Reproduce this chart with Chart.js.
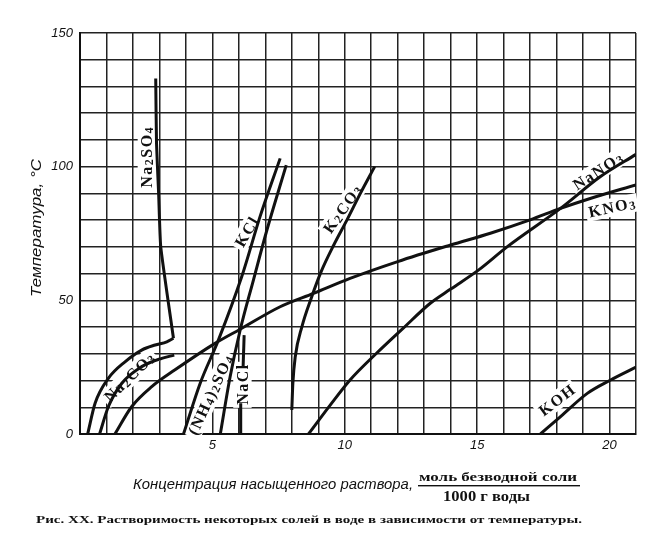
<!DOCTYPE html>
<html>
<head>
<meta charset="utf-8">
<script src="https://cdn.jsdelivr.net/npm/chart.js@4.4.1/dist/chart.umd.min.js"></script>
<style>
  html, body { margin: 0; padding: 0; background: #fff; }
  #wrap { width: 669px; height: 542px; }
</style>
</head>
<body>
<div id="wrap"><canvas id="chart" width="669" height="542"></canvas></div>
<script>
"use strict";

// tick labels
const X_TICKS = [5, 10, 15, 20];
const Y_TICKS = [0, 50, 100, 150];

// solubility curves: [concentration, temperature]
const NA2CO3_UPPER = [[0.29, 0], [0.57, 11.5], [1.07, 20.8], [1.70, 27], [2.33, 31.4], [2.84, 33.3], [3.28, 34.5], [3.53, 35.8]];
const NA2SO4 = [[3.53, 35.8], [3.05, 70], [2.97, 90], [2.89, 108.7], [2.86, 133]];
const NA2CO3_LOWER = [[0.74, 0], [1.07, 10.2], [1.58, 19], [2.33, 25.2], [3.09, 28.3], [3.56, 29.5]];
const KNO3 = [[1.32, 0], [1.95, 10.2], [2.71, 17.7], [3.59, 24], [5.1, 33.9], [6.05, 39.2], [7.56, 47.6], [8.82, 52.6],
  [10.2, 58.2], [12.0, 64.5], [14.0, 70.7], [15.5, 75.1], [17.0, 80.1], [18.15, 84.4], [19.3, 88.2], [21.0, 93.2]];
const NANO3 = [[8.63, 0], [9.45, 10.8], [10.2, 20.2], [11.2, 30.2], [12.2, 39.5], [13.23, 48.9], [14.0, 54.2],
  [15.06, 61.4], [16.13, 70], [18.15, 84.4], [19.66, 96.3], [21.0, 104.6]];
const KOH = [[17.39, 0], [18.15, 6.5], [19.16, 15.2], [20.04, 20.2], [21.0, 25]];
const K2CO3 = [[8.0, 9], [8.04, 19], [8.13, 28.9], [8.38, 40.1], [8.74, 51.0], [9.12, 61.0], [9.58, 70.6], [10.08, 80], [10.59, 90], [11.13, 100]];
const KCL = [[3.91, 0], [4.54, 19], [5.23, 35.2], [6.11, 58.9], [6.8, 81.3], [7.56, 103.1]];
const NH4_2SO4 = [[5.3, 0], [5.67, 21.4], [6.05, 38.9], [6.55, 57.6], [7.06, 76.3], [7.79, 100.6]];
const NACL_LOW = [[6.05, 0], [6.07, 11.5]];
const NACL_HIGH = [[6.16, 25], [6.2, 37]];

// curve names ("_" marks the next char as subscript) and where they sit
const LABEL_TEXTS = ["Na_2SO_4", "Na_2CO_3", "(NH_4)_2SO_4", "NaCl", "KCl", "K_2CO_3", "NaNO_3", "KNO_3", "KOH"];
const LABEL_AT = [[2.51, 103.4], [1.85, 21.3], [4.91, 14.6], [6.12, 18.4], [6.28, 75.6], [9.9, 84.2], [19.55, 98.4], [20.08, 84.9], [18.0, 12.7]];
const LABEL_ANGLE = [-90, -44, -65, -90, -60, -55, -33, -12, -37];

const Y_TITLE = "Температура, °С";
const X_TITLE = "Концентрация насыщенного раствора,";
const UNIT_TOP = "моль безводной соли";
const UNIT_BOTTOM = "1000 г воды";
const CAPTION = "Рис. XX. Растворимость некоторых солей в воде в зависимости от температуры.";

const INK = "#111";

function toPoints(arr) {
  return arr.map((p) => ({ x: p[0], y: p[1] }));
}

function fitText(ctx, text, x, y, width) {
  const w = ctx.measureText(text).width;
  ctx.save();
  ctx.translate(x, y);
  ctx.scale(width / w, 1);
  ctx.textAlign = "left";
  ctx.fillText(text, 0, 0);
  ctx.restore();
}

function richParts(text) {
  const parts = [];
  for (let i = 0; i < text.length; i++) {
    if (text[i] === "_") {
      parts.push({ s: text[i + 1], sub: true });
      i++;
    } else {
      parts.push({ s: text[i], sub: false });
    }
  }
  return parts;
}

function drawRich(ctx, text, cx, cy, angle) {
  const size = 16;
  const spacing = 1.5;
  const font = "bold " + size + "px 'Liberation Serif', serif";
  const subFont = "bold " + Math.round(size * 0.72) + "px 'Liberation Serif', serif";
  const parts = richParts(text);
  let total = 0;
  parts.forEach((p) => {
    ctx.font = p.sub ? subFont : font;
    p.w = ctx.measureText(p.s).width;
    total += p.w + spacing;
  });
  total -= spacing;
  ctx.save();
  ctx.translate(cx, cy);
  ctx.rotate(angle * Math.PI / 180);
  ctx.fillStyle = "#fff";
  ctx.fillRect(-total / 2 - 3, -size * 0.55, total + 6, size * 1.15);
  ctx.fillStyle = INK;
  ctx.textBaseline = "alphabetic";
  ctx.textAlign = "left";
  let x = -total / 2;
  parts.forEach((p) => {
    ctx.font = p.sub ? subFont : font;
    ctx.fillText(p.s, x, p.sub ? size * 0.42 : size * 0.35);
    x += p.w + spacing;
  });
  ctx.restore();
}

const annotate = {
  id: "annotate",
  beforeDatasetsDraw(chart) {
    const ctx = chart.ctx;
    const xs = chart.scales.x;
    const ys = chart.scales.y;
    LABEL_TEXTS.forEach((t, i) => {
      drawRich(ctx, t, xs.getPixelForValue(LABEL_AT[i][0]), ys.getPixelForValue(LABEL_AT[i][1]), LABEL_ANGLE[i]);
    });
  },
  afterDraw(chart) {
    const ctx = chart.ctx;
    const xs = chart.scales.x;
    const ys = chart.scales.y;
    ctx.save();
    ctx.fillStyle = INK;
    ctx.font = "italic 13px 'Liberation Sans', sans-serif";
    ctx.textBaseline = "middle";
    ctx.textAlign = "right";
    Y_TICKS.forEach((v) => ctx.fillText(String(v), xs.left - 7, ys.getPixelForValue(v)));
    ctx.textAlign = "center";
    ctx.textBaseline = "top";
    X_TICKS.forEach((v) => ctx.fillText(String(v), xs.getPixelForValue(v), ys.bottom + 5));

    // y title
    ctx.save();
    ctx.translate(41, 297);
    ctx.rotate(-Math.PI / 2);
    ctx.font = "italic 15px 'Liberation Sans', sans-serif";
    ctx.textBaseline = "alphabetic";
    fitText(ctx, Y_TITLE, 0, 0, 138);
    ctx.restore();

    // x title with unit fraction
    ctx.textBaseline = "alphabetic";
    ctx.font = "italic 15px 'Liberation Sans', sans-serif";
    fitText(ctx, X_TITLE, 133, 489, 280);
    ctx.font = "bold 13px 'Liberation Serif', serif";
    fitText(ctx, UNIT_TOP, 419, 481, 158);
    ctx.fillRect(418, 485, 162, 1.4);
    ctx.font = "bold 15px 'Liberation Serif', serif";
    fitText(ctx, UNIT_BOTTOM, 443, 501, 87);

    // caption
    ctx.font = "bold 11px 'Liberation Serif', serif";
    fitText(ctx, CAPTION, 36, 523, 546);
    ctx.restore();
  },
};

function curve(data, smooth) {
  const ds = {
    data: toPoints(data),
    showLine: true,
    borderColor: INK,
    borderWidth: 3,
    pointRadius: 0,
    fill: false,
  };
  if (smooth === "mono") {
    ds.cubicInterpolationMode = "monotone";
  } else {
    ds.tension = smooth;
  }
  return ds;
}

const gridStyle = { color: "#222", lineWidth: 1.5, drawTicks: false };

new Chart(document.getElementById("chart"), {
  type: "scatter",
  data: {
    datasets: [
      curve(NA2CO3_UPPER, "mono"),
      curve(NA2SO4, 0.15),
      curve(NA2CO3_LOWER, "mono"),
      curve(KNO3, "mono"),
      curve(NANO3, "mono"),
      curve(KOH, "mono"),
      curve(K2CO3, "mono"),
      curve(KCL, "mono"),
      curve(NH4_2SO4, "mono"),
      curve(NACL_LOW, 0),
      curve(NACL_HIGH, 0),
    ],
  },
  options: {
    responsive: false,
    animation: false,
    devicePixelRatio: 1,
    layout: { padding: { left: 80, top: 33, right: 33, bottom: 108 } },
    plugins: { legend: { display: false }, tooltip: { enabled: false } },
    scales: {
      x: {
        type: "linear", min: 0, max: 21,
        ticks: { display: false, stepSize: 1 },
        grid: gridStyle,
        border: { color: "#111", width: 2 },
      },
      y: {
        type: "linear", min: 0, max: 150,
        ticks: { display: false, stepSize: 10 },
        grid: gridStyle,
        border: { color: "#111", width: 2 },
      },
    },
  },
  plugins: [annotate],
});
</script>
</body>
</html>
